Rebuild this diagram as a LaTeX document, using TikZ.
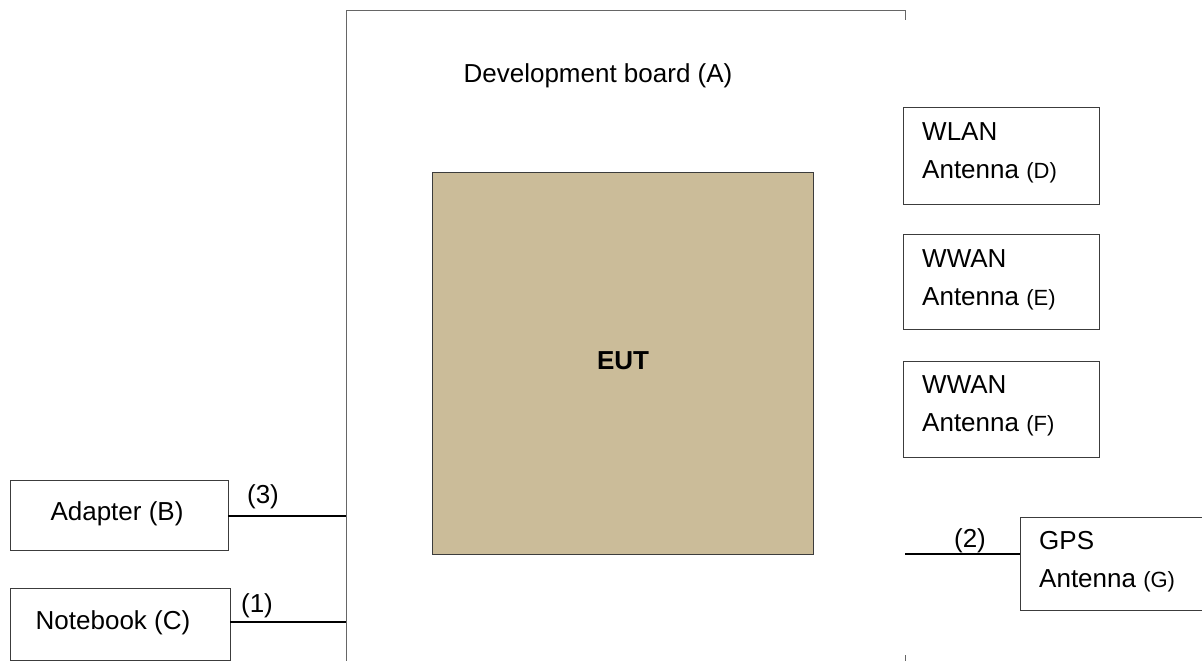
\documentclass[tikz,border=0pt]{standalone}
\usepackage{fontspec}
\setmainfont{Liberation Sans}
\definecolor{eutfill}{RGB}{203,188,153}
\definecolor{edge}{RGB}{60,60,60}
\begin{document}
\begin{tikzpicture}[x=1pt,y=-1pt,
  box/.style={draw=edge,line width=1.2pt,rectangle,inner sep=0pt,anchor=north west},
  lbl/.style={inner sep=0pt,font=\fontsize{26}{38}\selectfont,align=left},
  board/.style={draw=gray!80!black,line width=1pt},
  wire/.style={draw=black,line width=1.8pt}]
\useasboundingbox (0,0) rectangle (1202,661);
% development board outline
\coordinate (bl) at (346,661);
\coordinate (tl) at (346,11);
\coordinate (tr) at (905,11);
\coordinate (trt) at (905,20);
\coordinate (brt) at (905,655);
\coordinate (br) at (905,661);
\draw[board] (bl) -- (tl) -- (tr) -- (trt);
\draw[board] (brt) -- (br);
\node[lbl] (Atitle) at (598,76) {Development board (A)};
% EUT
\node[box,fill=eutfill,minimum width=381,minimum height=382] (EUT) at (432,172) {};
\node[lbl,font=\fontsize{26}{30}\selectfont\bfseries] (EUTl) at ([yshift=3pt]EUT.center) {EUT};
% antennas
\node[box,minimum width=196,minimum height=97] (D) at (903,107) {};
\node[lbl,anchor=west] (Dl) at (922,153) {WLAN\\Antenna {\fontsize{22}{38}\selectfont(D)}};
\node[box,minimum width=196,minimum height=95] (E) at (903,234) {};
\node[lbl,anchor=west] (El) at (922,280) {WWAN\\Antenna {\fontsize{22}{38}\selectfont(E)}};
\node[box,minimum width=196,minimum height=96] (F) at (903,361) {};
\node[lbl,anchor=west] (Fl) at (922,406) {WWAN\\Antenna {\fontsize{22}{38}\selectfont(F)}};
% GPS
\node[box,minimum width=190,minimum height=93] (G) at (1020,517) {};
\node[lbl,anchor=west] (Gl) at (1039,562) {GPS\\Antenna {\fontsize{22}{38}\selectfont(G)}};
% adapter and notebook
\node[box,minimum width=218,minimum height=70] (B) at (10,480) {};
\node[lbl] (Bl) at (117,514) {Adapter (B)};
\node[box,minimum width=220,minimum height=72] (C) at (10,588) {};
\node[lbl] (Cl) at (113,623) {Notebook (C)};
% connectors
\coordinate (p3) at (346,516);
\coordinate (b3) at (228,516);
\draw[wire] (b3) -- (p3);
\node[lbl] (L3) at (263,497) {(3)};
\coordinate (p1) at (346,622);
\coordinate (c1) at (230,622);
\draw[wire] (c1) -- (p1);
\node[lbl] (L1) at (257,606) {(1)};
\coordinate (p2) at (905,554);
\coordinate (g2) at (1020,554);
\draw[wire] (p2) -- (g2);
\node[lbl] (L2) at (970,541) {(2)};
\end{tikzpicture}
\end{document}
